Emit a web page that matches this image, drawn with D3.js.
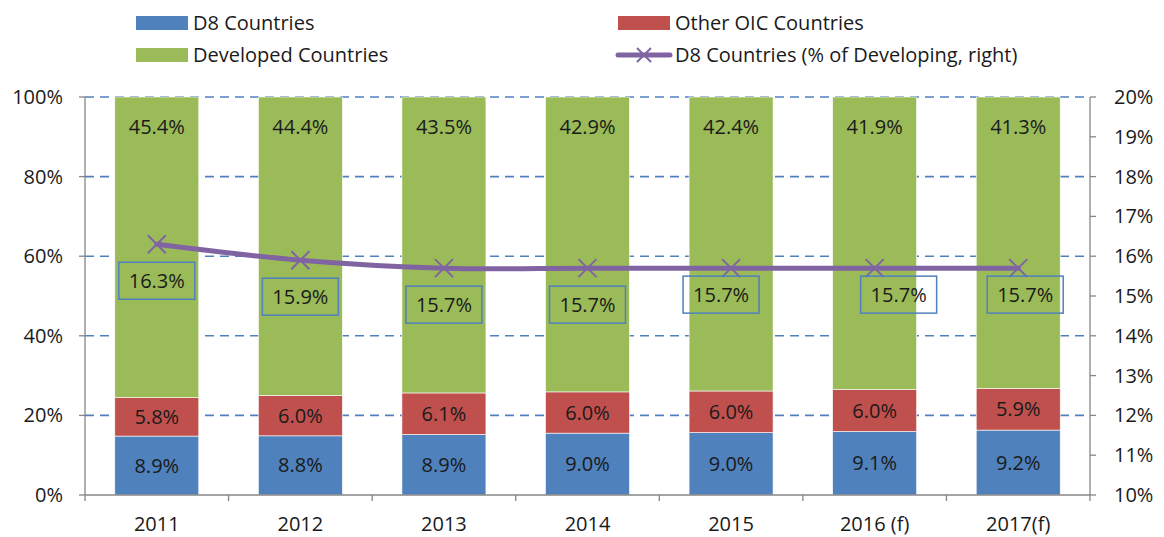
<!DOCTYPE html>
<html><head><meta charset="utf-8">
<script src="https://cdn.jsdelivr.net/npm/d3@7"></script>
<style>body{margin:0;background:#fff;} svg{display:block;font-family:"Open Sans","Noto Sans",sans-serif;}</style>
</head><body><svg id="c" width="1164" height="537"></svg>
<script>
const categories = ["2011","2012","2013","2014","2015","2016 (f)","2017(f)"];
const d8Values = [8.9,8.8,8.9,9.0,9.0,9.1,9.2];
const oicValues = [5.8,6.0,6.1,6.0,6.0,6.0,5.9];
const developedValues = [45.4,44.4,43.5,42.9,42.4,41.9,41.3];
const d8ShareDeveloping = [16.3,15.9,15.7,15.7,15.7,15.7,15.7];
const leftTicks = [0,20,40,60,80,100];
const rightTicks = [10,11,12,13,14,15,16,17,18,19,20];
const seriesNames = ["D8 Countries","Other OIC Countries","Developed Countries","D8 Countries (% of Developing, right)"];

// layout only
const labelNudgeX = [0,0,0,0,-10,24,7];
const labelNudgeY = [18,18,18,18,8,8,8];

const colors = {d8:"#4F81BD", oic:"#C0504D", dev:"#9BBB59", line:"#8064A2", axis:"#868686", grid:"#4F81BD"};
const FS = 20;
const svg = d3.select("#c");
const L=85, R=1090, T=97, B=495;

const x = d3.scaleBand().domain(categories).range([L,R]).paddingInner(0.415).paddingOuter(0.2075);
const yL = d3.scaleLinear().domain([0,100]).range([B,T]);
const yR = d3.scaleLinear().domain([10,20]).range([B,T]);

// gridlines
svg.append("g").selectAll("line").data(leftTicks.filter(d=>d>0)).join("line")
  .attr("x1",L).attr("x2",R).attr("y1",d=>yL(d)).attr("y2",d=>yL(d))
  .attr("stroke",colors.grid).attr("stroke-width",1.6).attr("stroke-dasharray","9,6");

// stacked normalized data
const rows = categories.map((c,i)=>({cat:c, d8:d8Values[i], oic:oicValues[i], dev:developedValues[i]}));
const keys = ["d8","oic","dev"];
const stack = d3.stack().keys(keys).offset(d3.stackOffsetExpand);
const layers = stack(rows);
const g = svg.append("g");
layers.forEach(layer=>{
  g.append("g").selectAll("rect").data(layer).join("rect")
    .attr("x",d=>x(d.data.cat)).attr("width",x.bandwidth())
    .attr("y",d=>yL(d[1]*100)).attr("height",d=>yL(d[0]*100)-yL(d[1]*100))
    .attr("fill",colors[layer.key]).attr("stroke","#fff").attr("stroke-width",0.6);
  g.append("g").selectAll("text").data(layer).join("text")
    .attr("x",d=>x(d.data.cat)+x.bandwidth()/2)
    .attr("y",d=> layer.key==="dev" ? yL(d[1]*100)+30 : (yL(d[0]*100)+yL(d[1]*100))/2)
    .attr("dy","0.35em").attr("text-anchor","middle").attr("font-size",FS).attr("fill","#1a1a1a")
    .text(d=>d.data[layer.key].toFixed(1)+"%");
});

// axes
const axG = svg.append("g").attr("stroke",colors.axis).attr("stroke-width",1.3);
axG.append("line").attr("x1",L).attr("x2",L).attr("y1",T).attr("y2",B);
axG.append("line").attr("x1",R).attr("x2",R).attr("y1",T).attr("y2",B);
axG.append("line").attr("x1",L).attr("x2",R).attr("y1",B).attr("y2",B);
axG.selectAll(".lt").data(leftTicks).join("line").attr("x1",L-6).attr("x2",L).attr("y1",d=>yL(d)).attr("y2",d=>yL(d));
axG.selectAll(".rt").data(rightTicks).join("line").attr("x1",R).attr("x2",R+6).attr("y1",d=>yR(d)).attr("y2",d=>yR(d));
const bounds = [L].concat(categories.slice(1).map(c=>x(c)-x.step()*x.paddingInner()/2)).concat([R]);
axG.selectAll(".xt").data(bounds).join("line").attr("x1",d=>d).attr("x2",d=>d).attr("y1",B).attr("y2",B+6);

svg.append("g").selectAll("text").data(leftTicks).join("text")
  .attr("x",63).attr("y",d=>yL(d)).attr("dy","0.35em").attr("text-anchor","end")
  .attr("font-size",FS).attr("fill","#1a1a1a").text(d=>d+"%");
svg.append("g").selectAll("text").data(rightTicks).join("text")
  .attr("x",1114).attr("y",d=>yR(d)).attr("dy","0.35em").attr("text-anchor","start")
  .attr("font-size",FS).attr("fill","#1a1a1a").text(d=>d+"%");
svg.append("g").selectAll("text").data(categories).join("text")
  .attr("x",d=>x(d)+x.bandwidth()/2).attr("y",524).attr("dy","0.35em").attr("text-anchor","middle")
  .attr("font-size",FS).attr("fill","#1a1a1a").text(d=>d);

// line
const pts = categories.map((c,i)=>[x(c)+x.bandwidth()/2, yR(d8ShareDeveloping[i])]);
svg.append("path").attr("d",d3.line().curve(d3.curveCatmullRom.alpha(0.5))(pts))
  .attr("fill","none").attr("stroke",colors.line).attr("stroke-width",5).attr("stroke-linecap","round");
const mk = svg.append("g").attr("stroke",colors.line).attr("stroke-width",2);
pts.forEach(p=>{
  mk.append("path").attr("d",`M${p[0]-9},${p[1]-9}L${p[0]+9},${p[1]+9}M${p[0]-9},${p[1]+9}L${p[0]+9},${p[1]-9}`);
});
// line labels
pts.forEach((p,i)=>{
  const cx=p[0]+labelNudgeX[i], cy=p[1]+labelNudgeY[i]+18.5;
  svg.append("rect").attr("x",cx-38).attr("y",cy-18.5).attr("width",76).attr("height",37)
    .attr("fill","none").attr("stroke",colors.d8).attr("stroke-width",1.5);
  svg.append("text").attr("x",cx).attr("y",cy).attr("dy","0.35em").attr("text-anchor","middle")
    .attr("font-size",FS).attr("fill","#1a1a1a").text(d8ShareDeveloping[i].toFixed(1)+"%");
});

// legend
const lg = svg.append("g").attr("font-size",FS).attr("fill","#1a1a1a");
const legendItems = [
  {name:seriesNames[0], color:colors.d8, x:136, y:23, type:"rect"},
  {name:seriesNames[1], color:colors.oic, x:618, y:23, type:"rect"},
  {name:seriesNames[2], color:colors.dev, x:136, y:55, type:"rect"},
  {name:seriesNames[3], color:colors.line, x:618, y:55, type:"line"}
];
legendItems.forEach(it=>{
  if(it.type==="rect"){
    lg.append("rect").attr("x",it.x).attr("y",it.y-7).attr("width",52).attr("height",14).attr("fill",it.color);
  } else {
    lg.append("line").attr("x1",it.x).attr("x2",it.x+52).attr("y1",it.y).attr("y2",it.y)
      .attr("stroke",it.color).attr("stroke-width",5).attr("stroke-linecap","round");
    lg.append("path").attr("d",`M${it.x+19},${it.y-7}L${it.x+33},${it.y+7}M${it.x+19},${it.y+7}L${it.x+33},${it.y-7}`)
      .attr("stroke",it.color).attr("stroke-width",2);
  }
  lg.append("text").attr("x",it.x+57).attr("y",it.y).attr("dy","0.35em").text(it.name);
});
</script></body></html>
